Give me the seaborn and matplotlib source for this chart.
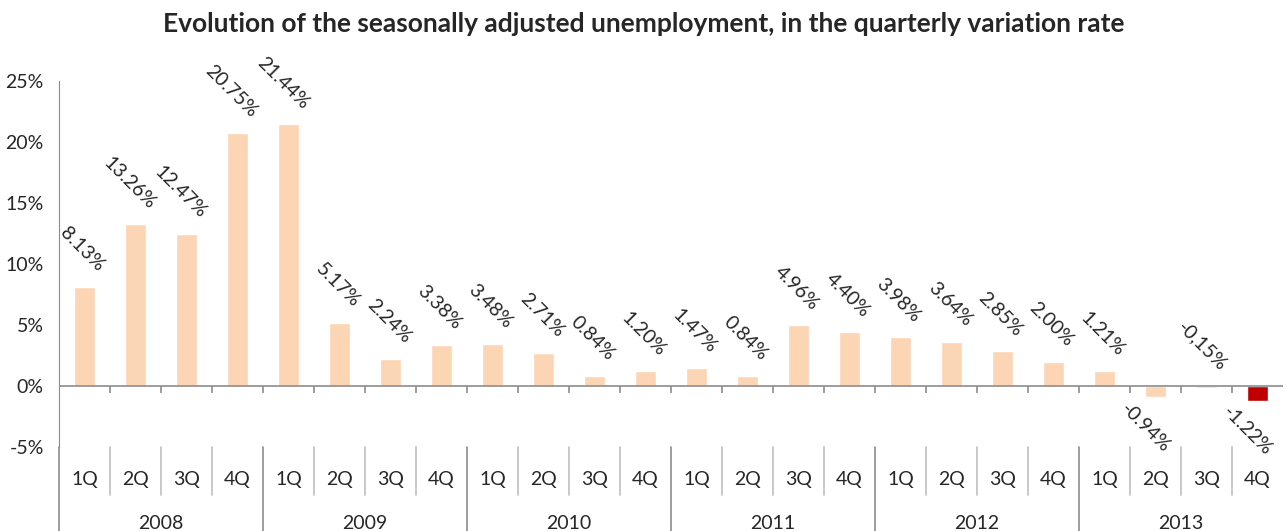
import matplotlib
matplotlib.use('Agg')
import matplotlib.pyplot as plt
import matplotlib.transforms as mtransforms
import seaborn as sns

# 数据
years = ['2008', '2009', '2010', '2011', '2012', '2013']
quarters = ['1Q', '2Q', '3Q', '4Q']
values = [8.13, 13.26, 12.47, 20.75,
          21.44, 5.17, 2.24, 3.38,
          3.48, 2.71, 0.84, 1.20,
          1.47, 0.84, 4.96, 4.40,
          3.98, 3.64, 2.85, 2.00,
          1.21, -0.94, -0.15, -1.22]
labels = ['8.13%', '13.26%', '12.47%', '20.75%',
          '21.44%', '5.17%', '2.24%', '3.38%',
          '3.48%', '2.71%', '0.84%', '1.20%',
          '1.47%', '0.84%', '4.96%', '4.40%',
          '3.98%', '3.64%', '2.85%', '2.00%',
          '1.21%', '-0.94%', '-0,15%', '-1.22%']
yticks = [-5, 0, 5, 10, 15, 20, 25]

sns.set_style('white')
plt.rcParams['font.family'] = ['Lato', 'DejaVu Sans']

PEACH = '#FCD5B5'
RED = '#C00000'
GREY = '#8C8C8C'
FS = 14

n = len(values)
pos = list(range(n))
colors = [PEACH] * (n - 1) + [RED]

fig = plt.figure(figsize=(12.87, 5.31), dpi=100)
ax = fig.add_axes([59 / 1287, 84 / 531, 1 - 59 / 1287 - 0.003, 366 / 531])

sns.barplot(x=pos, y=values, hue=pos, palette=colors, legend=False,
            width=0.41, saturation=1, ax=ax)

ax.set_xlim(-0.5, n - 0.5)
ax.set_ylim(-5, 25)
ax.set_yticks(yticks)
ax.set_yticklabels([f'{t}%' for t in yticks], fontsize=FS)
ax.set_xticks([])
ax.set_xlabel('')
ax.set_ylabel('')
for s in ['top', 'right', 'bottom']:
    ax.spines[s].set_visible(False)
ax.spines['left'].set_color(GREY)
ax.spines['left'].set_bounds(-5, 25)
ax.tick_params(axis='y', direction='out', length=5, color=GREY, pad=6)

# 零线和刻度
ax.axhline(0, color=GREY, lw=1.2, zorder=3)
ax.vlines([i + 0.5 for i in range(n - 1)], -0.6, 0, color=GREY, lw=1.2, zorder=3)

# 数值标签
for i, (v, lab) in enumerate(zip(values, labels)):
    if v < -0.5:
        ax.text(i - 0.5, v - 0.2, lab, rotation=-45, rotation_mode='anchor',
                ha='left', va='top', fontsize=FS)
    else:
        ax.text(i + 0.22, max(v, 0) + 1.0, lab, rotation=-45, rotation_mode='anchor',
                ha='right', va='bottom', fontsize=FS)

# 两级分类轴
trans = mtransforms.blended_transform_factory(ax.transData, ax.transAxes)
ax.plot([-0.5, -0.5], [0, -0.23], transform=trans, color=GREY, lw=1.2, clip_on=False)
for i in range(n):
    ax.text(i, -0.09, quarters[i % 4], transform=trans, ha='center', va='center',
            fontsize=FS)
    if i > 0:
        top = -0.23 if i % 4 == 0 else -0.131
        ax.plot([i - 0.5, i - 0.5], [0, top], transform=trans,
                color=GREY if i % 4 == 0 else '#BFBFBF', lw=1.2, clip_on=False)
for k, y in enumerate(years):
    ax.text(4 * k + 1.5, -0.21, y, transform=trans, ha='center', va='center',
            fontsize=FS)

fig.text(0.5, 0.955, 'Evolution of the seasonally adjusted unemployment, in the quarterly variation rate',
         ha='center', va='center', fontsize=19, fontweight='bold')

fig.savefig('out.png', dpi=100)
